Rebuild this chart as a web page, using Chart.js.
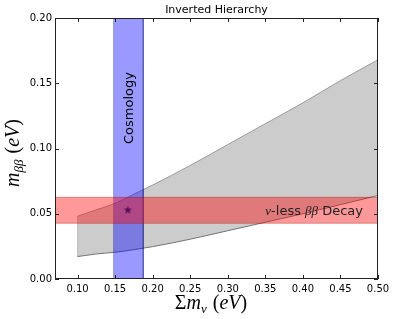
<!DOCTYPE html>
<html>
<head>
<meta charset="utf-8">
<script src="https://cdn.jsdelivr.net/npm/chart.js@4/dist/chart.umd.min.js"></script>
<style>
html,body{margin:0;padding:0;background:#fff;}
#wrap{width:395px;height:319px;}
</style>
</head>
<body>
<div id="wrap"><canvas id="c" width="395" height="319"></canvas></div>
<script>
// ---- data ----
const sumMnu   = [0.10, 0.11, 0.125, 0.15, 0.175, 0.20, 0.25, 0.30, 0.35, 0.40, 0.45, 0.50];
const mbbUpper = [0.048, 0.050, 0.053, 0.058, 0.065, 0.072, 0.087, 0.103, 0.119, 0.135, 0.152, 0.168];
const mbbLower = [0.0172, 0.0180, 0.0192, 0.0205, 0.0225, 0.0248, 0.0305, 0.037, 0.0435, 0.050, 0.057, 0.064];
const cosmoRange = [0.148, 0.1875];      // Σmν band
const decayRange = [0.0427, 0.0626];     // mββ band
const starPoint  = [0.167, 0.053];
const xRange = [0.07, 0.50];
const yRange = [0.0, 0.20];
const xTicks = [0.10, 0.15, 0.20, 0.25, 0.30, 0.35, 0.40, 0.45, 0.50];
const yTicks = [0.00, 0.05, 0.10, 0.15, 0.20];
const titleText = 'Inverted Hierarchy';
const cosmoLabel = 'Cosmology';

const upperPts = sumMnu.map((x,i)=>({x:x,y:mbbUpper[i]}));
const lowerPts = sumMnu.map((x,i)=>({x:x,y:mbbLower[i]}));

// star marker image
const starImg = document.createElement('canvas');
starImg.width = 9; starImg.height = 9;
(function(){
  const c = starImg.getContext('2d');
  c.fillStyle = '#5a0a5a';
  c.beginPath();
  for (let k=0;k<10;k++){
    const r = k%2===0 ? 4.3 : 1.8;
    const ang = -Math.PI/2 + k*Math.PI/5;
    const px = 4.5 + r*Math.cos(ang), py = 4.8 + r*Math.sin(ang);
    if (k===0) c.moveTo(px,py); else c.lineTo(px,py);
  }
  c.closePath(); c.fill();
})();

const textPlugin = {
  id:'texts',
  afterDraw(chart){
    const ctx = chart.ctx, a = chart.chartArea;
    const xs = chart.scales.x, ys = chart.scales.y;
    ctx.save();
    // frame
    ctx.strokeStyle = '#222'; ctx.lineWidth = 1;
    ctx.strokeRect(Math.round(a.left)+0.5, Math.round(a.top)+0.5, Math.round(a.right-a.left)-1, Math.round(a.bottom-a.top)-1);
    // inward ticks
    ctx.beginPath();
    xTicks.forEach(v=>{
      const px = Math.round(xs.getPixelForValue(v))+0.5;
      ctx.moveTo(px, a.bottom); ctx.lineTo(px, a.bottom-4);
      ctx.moveTo(px, a.top); ctx.lineTo(px, a.top+4);
    });
    yTicks.forEach(v=>{
      const py = Math.round(ys.getPixelForValue(v))+0.5;
      ctx.moveTo(a.left, py); ctx.lineTo(a.left+4, py);
      ctx.moveTo(a.right, py); ctx.lineTo(a.right-4, py);
    });
    ctx.stroke();
    // title
    ctx.fillStyle = '#000';
    ctx.font = '11px "DejaVu Sans"';
    ctx.textAlign = 'center'; ctx.textBaseline = 'middle';
    ctx.fillText(titleText, (a.left+a.right)/2, 10);
    // cosmology label
    ctx.save();
    ctx.translate(xs.getPixelForValue((cosmoRange[0]+cosmoRange[1])/2)+1, 108);
    ctx.rotate(-Math.PI/2);
    ctx.font = '13px "DejaVu Sans"';
    ctx.fillStyle = '#000';
    ctx.fillText(cosmoLabel, 0, 0);
    ctx.restore();

    // rich text helper
    function rich(parts, cx, cy, rot){
      ctx.save();
      ctx.translate(cx, cy);
      if (rot) ctx.rotate(rot);
      ctx.textAlign = 'left'; ctx.textBaseline = 'alphabetic';
      let w = 0;
      parts.forEach(p=>{ ctx.font = p.f; w += ctx.measureText(p.t).width + (p.gap||0); });
      let x = -w/2;
      parts.forEach(p=>{ ctx.font = p.f; ctx.fillStyle = p.c || '#000'; ctx.fillText(p.t, x, p.dy||0); x += ctx.measureText(p.t).width + (p.gap||0); });
      ctx.restore();
      return w;
    }
    const it = 'italic 20px "Liberation Serif"', up = '20px "Liberation Serif"', sub = 'italic 13px "Liberation Serif"';
    // y title
    rich([{t:'m',f:it},{t:'ββ',f:sub,dy:4,gap:6},{t:'(',f:up},{t:'eV',f:it},{t:')',f:up}], 19, 153, -Math.PI/2);
    // x title
    rich([{t:'Σ',f:up},{t:'m',f:it},{t:'ν',f:sub,dy:4,gap:6},{t:'(',f:up},{t:'eV',f:it},{t:')',f:up}], 211, 309, 0);
    // decay label
    const sans = '13px "DejaVu Sans"', mi = 'italic 13px "Liberation Serif"';
    const parts = [{t:'ν',f:mi,c:'#222'},{t:'-less ',f:sans,c:'#222'},{t:'ββ',f:mi,c:'#222'},{t:' Decay',f:sans,c:'#222'}];
    let w=0; parts.forEach(p=>{ctx.font=p.f; w+=ctx.measureText(p.t).width;});
    rich(parts, 363 - w/2, ys.getPixelForValue((decayRange[0]+decayRange[1])/2)+5, 0);
    ctx.restore();
  }
};

new Chart(document.getElementById('c'), {
  type:'scatter',
  data:{
    datasets:[
      { // star
        data:[{x:starPoint[0], y:starPoint[1]}],
        pointStyle:starImg, pointRadius:4, order:1
      },
      { // decay band top
        data:[{x:xRange[0],y:decayRange[1]},{x:xRange[1],y:decayRange[1]}],
        showLine:true, pointRadius:0, borderWidth:1, borderColor:'rgba(150,0,0,0.35)',
        fill:{value:decayRange[0]}, backgroundColor:'rgba(255,0,0,0.4)', order:2
      },
      { // decay band bottom edge
        data:[{x:xRange[0],y:decayRange[0]},{x:xRange[1],y:decayRange[0]}],
        showLine:true, pointRadius:0, borderWidth:1, borderColor:'rgba(150,0,0,0.35)', fill:false, order:2
      },
      { // cosmology band
        data:[{x:cosmoRange[0],y:yRange[0]},{x:cosmoRange[0],y:yRange[1]},{x:cosmoRange[1],y:yRange[1]},{x:cosmoRange[1],y:yRange[0]}],
        showLine:true, pointRadius:0, borderWidth:1, borderColor:'rgba(0,0,120,0.35)',
        fill:'origin', backgroundColor:'rgba(0,0,255,0.4)', order:3
      },
      { // upper curve
        data:upperPts, showLine:true, pointRadius:0, borderWidth:1, borderColor:'#999999',
        fill:'+1', backgroundColor:'rgba(128,128,128,0.4)', order:4, cubicInterpolationMode:'monotone'
      },
      { // lower curve
        data:lowerPts, showLine:true, pointRadius:0, borderWidth:1, borderColor:'#707070',
        fill:false, order:5, cubicInterpolationMode:'monotone'
      },
      { // left edge at 0.1
        data:[{x:sumMnu[0],y:mbbLower[0]},{x:sumMnu[0],y:mbbUpper[0]}],
        showLine:true, pointRadius:0, borderWidth:1, borderColor:'#c4c4c4', fill:false, order:5
      }
    ]
  },
  options:{
    responsive:false, animation:false, devicePixelRatio:1,
    layout:{padding:{top:18,right:17,left:0,bottom:0}},
    plugins:{legend:{display:false}, tooltip:{enabled:false}, title:{display:false}},
    scales:{
      x:{
        type:'linear', min:xRange[0], max:xRange[1],
        afterBuildTicks:s=>{ s.ticks = xTicks.map(v=>({value:v})); },
        afterFit:s=>{ s.height = 40; },
        grid:{display:false, drawTicks:false}, border:{display:false},
        ticks:{padding:4, color:'#000', font:{family:'DejaVu Sans', size:10}, callback:v=>Number(v).toFixed(2), maxRotation:0, autoSkip:false}
      },
      y:{
        type:'linear', min:yRange[0], max:yRange[1],
        afterBuildTicks:s=>{ s.ticks = yTicks.map(v=>({value:v})); },
        afterFit:s=>{ s.width = 55; },
        grid:{display:false, drawTicks:false}, border:{display:false},
        ticks:{padding:3, color:'#000', font:{family:'DejaVu Sans', size:10}, callback:v=>Number(v).toFixed(2), autoSkip:false}
      }
    }
  },
  plugins:[textPlugin]
});
</script>
</body>
</html>
